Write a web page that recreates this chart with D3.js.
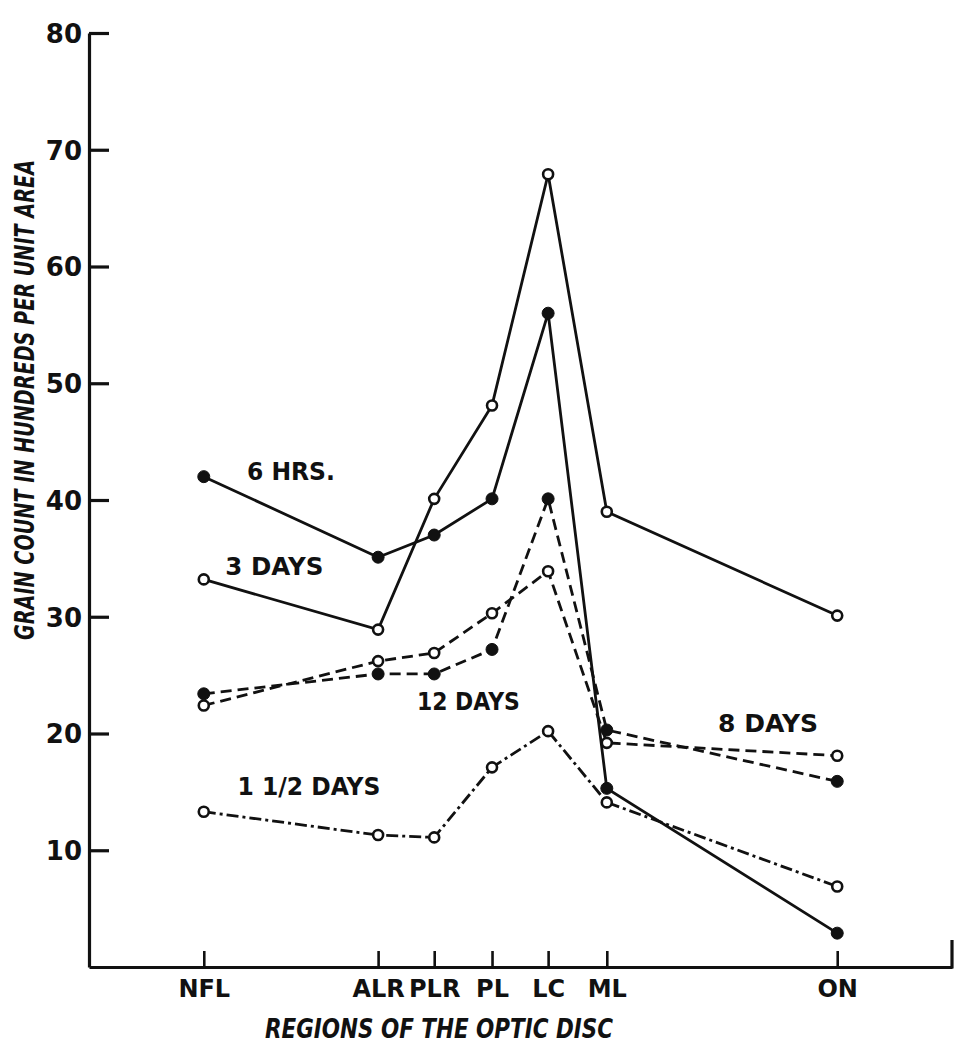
<!DOCTYPE html>
<html><head><meta charset="utf-8">
<script src="https://cdn.jsdelivr.net/npm/d3@7"></script>
<style>body{margin:0;background:#fff}</style></head>
<body><svg id="c" width="965" height="1050"></svg>
<script>
// ---- data ----
const regions = ["NFL","ALR","PLR","PL","LC","ML","ON"];
const regionPos = [13.3, 33.5, 40.0, 46.7, 53.2, 60.0, 86.7]; // position along the disc (0-100)
const yTicks = [10,20,30,40,50,60,70,80];
const sixHrs      = [42.0, 35.1, 37.0, 40.1, 56.0, 15.3, 2.9];
const threeDays   = [33.2, 28.9, 40.1, 48.1, 67.9, 39.0, 30.1];
const eightDays   = [22.4, 26.2, 26.9, 30.3, 33.9, 19.2, 18.1];
const twelveDays  = [23.4, 25.1, 25.1, 27.2, 40.1, 20.3, 15.9];
const oneHalfDays = [13.3, 11.3, 11.1, 17.1, 20.2, 14.1, 6.9];
const labelNames  = ["6 HRS.", "3 DAYS", "12 DAYS", "8 DAYS", "1 1/2 DAYS"];
const labelX      = [18.3, 15.8, 38.0, 72.9, 17.2];
const labelY      = [41.7, 33.6, 22.0, 20.1, 14.7];
const labelLen    = [88, 98, 103, 100, 143];

// ---- styles ----
const series = [
  {values: sixHrs,      dash: null,          filled: true},
  {values: threeDays,   dash: null,          filled: false},
  {values: eightDays,   dash: "11,6",        filled: false},
  {values: twelveDays,  dash: "11,6",        filled: true},
  {values: oneHalfDays, dash: "12,4,3,4",    filled: false}
];

const svg = d3.select("#c");
svg.append("rect").attr("width",965).attr("height",1050).attr("fill","#fff");
const x = d3.scaleLinear().domain([0,100]).range([89,952]);
const y = d3.scaleLinear().domain([0,80]).range([967,33]);
const ink = "#111";
const font = "'DejaVu Sans', sans-serif";

// y axis
const yAx = svg.append("g").attr("transform",`translate(${x(0)},0)`)
  .call(d3.axisLeft(y).tickValues(yTicks).tickSizeInner(-20).tickSizeOuter(0).tickPadding(7).tickFormat(d3.format("d")));
yAx.select(".domain").attr("stroke",ink).attr("stroke-width",3.2);
yAx.selectAll(".tick line").attr("stroke",ink).attr("stroke-width",3.2);
yAx.selectAll(".tick text").attr("font-family",font).attr("font-weight","bold").attr("font-size",26).attr("fill",ink).attr("dy","0.36em");

// x axis
const xAx = svg.append("g").attr("transform",`translate(0,${y(0)})`)
  .call(d3.axisBottom(x).tickValues(regionPos).tickSizeInner(-16).tickSizeOuter(0).tickPadding(13)
    .tickFormat((d,i)=>regions[i]));
xAx.select(".domain").attr("stroke",ink).attr("stroke-width",3.2);
xAx.selectAll(".tick line").attr("stroke",ink).attr("stroke-width",2.6);
xAx.selectAll(".tick text").attr("font-family",font).attr("font-weight","bold").attr("font-size",24).attr("fill",ink);
// right-end tick
svg.append("line").attr("x1",x(100)).attr("x2",x(100)).attr("y1",y(0)+1.5).attr("y2",y(0)-27)
  .attr("stroke",ink).attr("stroke-width",3.2);

// axis titles
svg.append("text").attr("transform",`translate(34,400) rotate(-90)`)
  .attr("text-anchor","middle").attr("font-family",font).attr("font-weight","bold").attr("font-style","italic")
  .attr("font-size",26).attr("fill",ink).attr("textLength",480).attr("lengthAdjust","spacingAndGlyphs")
  .text("GRAIN COUNT IN HUNDREDS PER UNIT AREA");
svg.append("text").attr("x",439).attr("y",1038)
  .attr("text-anchor","middle").attr("font-family",font).attr("font-weight","bold").attr("font-style","italic")
  .attr("font-size",26).attr("fill",ink).attr("textLength",348).attr("lengthAdjust","spacingAndGlyphs")
  .text("REGIONS OF THE OPTIC DISC");

// lines
const line = d3.line().x((d,i)=>x(regionPos[i])).y(d=>y(d));
series.forEach(s=>{
  svg.append("path").datum(s.values).attr("d",line).attr("fill","none")
    .attr("stroke",ink).attr("stroke-width",2.8).attr("stroke-dasharray",s.dash);
});
// markers
series.forEach(s=>{
  svg.append("g").selectAll("circle").data(s.values).join("circle")
    .attr("cx",(d,i)=>x(regionPos[i])).attr("cy",d=>y(d))
    .attr("r",s.filled?6:5)
    .attr("fill",s.filled?ink:"#fff").attr("stroke",ink).attr("stroke-width",s.filled?1:2.6);
});

// series labels
svg.append("g").selectAll("text").data(labelNames).join("text")
  .attr("x",(d,i)=>x(labelX[i])).attr("y",(d,i)=>y(labelY[i]))
  .attr("font-family",font).attr("font-weight","bold").attr("font-size",24).attr("fill",ink)
  .attr("textLength",(d,i)=>labelLen[i]).attr("lengthAdjust","spacingAndGlyphs")
  .text(d=>d);
</script>
</body></html>
